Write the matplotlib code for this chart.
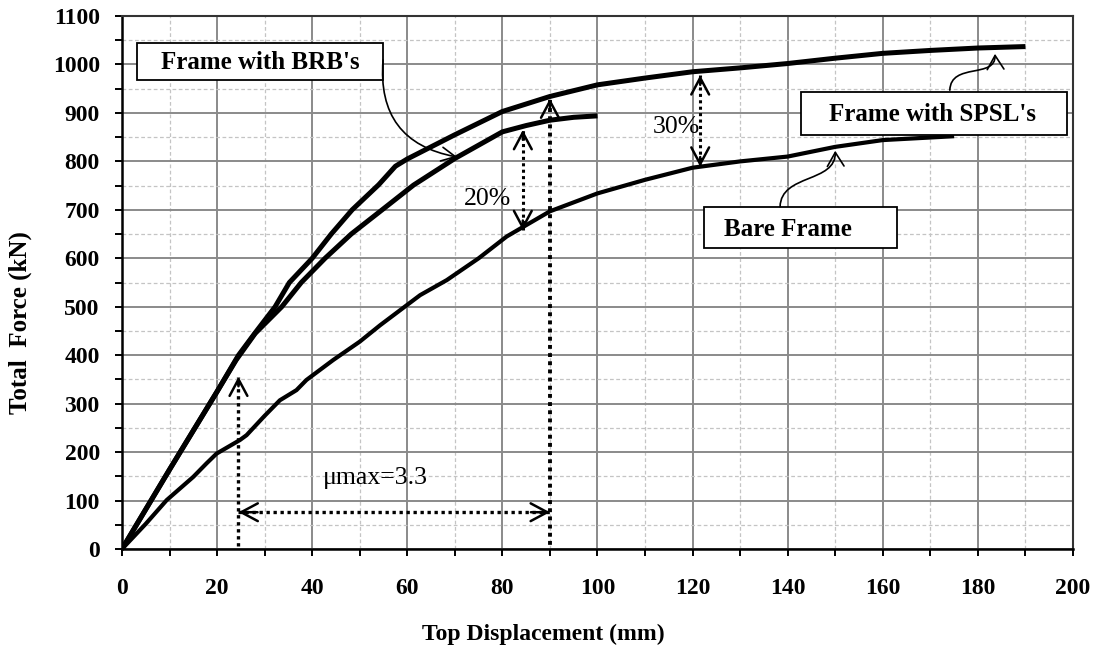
import matplotlib
matplotlib.use("Agg")
import matplotlib.pyplot as plt
from matplotlib.patches import Rectangle, FancyArrowPatch
from matplotlib.path import Path
from matplotlib.ticker import MultipleLocator

plt.rcParams['font.family'] = ['Liberation Serif', 'DejaVu Serif']

# ---------------- data ----------------
x_brb = [0, 10, 20, 24, 28, 33.6, 37.7, 42.7, 48.2, 54.7, 61.3, 70, 80, 85, 90, 95, 100]
y_brb = [0, 164, 325, 390, 445, 500, 550, 600, 650, 700, 751, 806, 861, 874, 885, 891, 894]

x_spsl = [0, 10, 20, 24.5, 28.3, 32.2, 35.2, 40, 44, 48.4, 54, 57.5, 60, 70, 80,
          90, 100, 110, 120, 130, 140, 150, 160, 170, 180, 190]
y_spsl = [0, 164, 325, 400, 450, 500, 550, 600, 650, 700, 752, 790, 805, 855, 903,
          934, 958, 972, 985, 993, 1002, 1013, 1023, 1029, 1034, 1037]

x_bare = [0, 5, 9.4, 15, 17.8, 19.9, 24.8, 26.2, 30, 33.2, 36.7, 38.8, 44.4, 50, 54.3, 62.7,
          68.3, 75, 80.9, 90, 100, 110, 120, 130, 140, 150, 160, 175]
y_bare = [0, 52, 101, 149, 177, 197, 225, 235, 275, 307, 328, 349, 390, 428, 462, 524,
          555, 600, 645, 697, 734, 762, 787, 800, 810, 830, 844, 852]

x_ticks = list(range(0, 201, 20))
y_ticks = list(range(0, 1101, 100))

label_brb = "Frame with BRB's"
label_spsl = "Frame with SPSL's"
label_bare = "Bare Frame"

# ---------------- figure ----------------
fig = plt.figure(figsize=(10.95, 6.49), dpi=100)
ax = fig.add_axes([0.1114, 0.154, 0.8685, 0.8213])
ax.set_xlim(0, 200)
ax.set_ylim(0, 1100)
ax.set_xticks(x_ticks)
ax.set_yticks(y_ticks)
ax.xaxis.set_minor_locator(MultipleLocator(10))
ax.yaxis.set_minor_locator(MultipleLocator(50))

ax.grid(which='major', color='#8a8a8a', lw=1.4, zorder=0)
ax.grid(which='minor', color='#c4c4c4', lw=0.9, ls=(0, (3, 2)), zorder=0)
ax.set_axisbelow(True)

for side in ['left', 'bottom']:
    ax.spines[side].set_linewidth(1.8)
    ax.spines[side].set_color('black')
for side in ['top', 'right']:
    ax.spines[side].set_linewidth(1.5)
    ax.spines[side].set_color('#333333')

ax.tick_params(which='both', direction='out', length=5, width=1.4, color='black')
ax.tick_params(axis='x', which='major', pad=15.5, labelsize=17)
ax.tick_params(axis='y', which='major', pad=11, labelsize=17)
for lab in ax.get_xticklabels() + ax.get_yticklabels():
    lab.set_fontweight('bold')

ax.set_xlabel('Top Displacement (mm)', fontsize=17, fontweight='bold', va='center')
ax.xaxis.set_label_coords(0.443, -0.161)
ax.set_ylabel('Total  Force (kN)', fontsize=18, fontweight='bold', va='center')
ax.yaxis.set_label_coords(-0.107, 0.424)

# ---------------- curves ----------------
ax.plot(x_spsl, y_spsl, color='black', lw=3.6, solid_capstyle='butt', solid_joinstyle='round', zorder=4)
ax.plot(x_brb, y_brb, color='black', lw=3.6, solid_capstyle='butt', solid_joinstyle='round', zorder=4)
ax.plot(x_bare, y_bare, color='black', lw=3.0, solid_capstyle='butt', solid_joinstyle='round', zorder=4)

# ---------------- dotted guides with arrow heads ----------------
dot = dict(color='black', ls=(0, (1, 1.1)), zorder=5)
def head(tip, tail):
    ax.annotate('', xy=tip, xytext=tail,
                arrowprops=dict(arrowstyle='->,head_length=0.6,head_width=0.32',
                                lw=1.8, color='black', shrinkA=0, shrinkB=0,
                                mutation_scale=20), zorder=6)

# ductility lines
ax.plot([90, 90], [-8, 930], lw=2.8, **dot)
head((90, 930), (90, 910))
ax.plot([24.5, 24.5], [-8, 356], lw=2.4, **dot)
head((24.5, 356), (24.5, 336))
ax.plot([24.5, 90], [76, 76], lw=2.4, **dot)
head((24.5, 76), (28.5, 76))
head((90, 76), (86, 76))
# 20 %
ax.plot([84.3, 84.3], [658, 865], lw=2.2, **dot)
head((84.3, 865), (84.3, 845))
head((84.3, 658), (84.3, 678))
# 30 %
ax.plot([121.6, 121.6], [789, 978], lw=2.2, **dot)
head((121.6, 978), (121.6, 958))
head((121.6, 789), (121.6, 809))

ax.text(76.8, 722, '20%', fontsize=18.5, ha='center', va='center', zorder=6)
ax.text(116.5, 872, '30%', fontsize=18.5, ha='center', va='center', zorder=6)
ax.text(42.3, 146, '\u03bcmax=3.3', fontsize=18.5, ha='left', va='center', zorder=6)

# ---------------- label boxes ----------------
def box(x0, x1, y0, y1):
    ax.add_patch(Rectangle((x0, y0), x1 - x0, y1 - y0, fc='white', ec='black',
                           lw=1.3, zorder=7))

box(3.2, 54.9, 968, 1044)
ax.text(29, 1004, label_brb, fontsize=18, fontweight='bold', ha='center', va='center', zorder=8)
box(142.9, 198.7, 855, 944)
ax.text(170.5, 897, label_spsl, fontsize=18, fontweight='bold', ha='center', va='center', zorder=8)
box(122.4, 163, 620.6, 706.5)
ax.text(140, 660, label_bare, fontsize=18, fontweight='bold', ha='center', va='center', zorder=8)

# curved leader from BRB box
ax.add_patch(FancyArrowPatch((54.9, 1009), (70.5, 809),
                             connectionstyle='arc3,rad=0.45',
                             arrowstyle='->,head_length=0.5,head_width=0.25',
                             mutation_scale=20, lw=1.2, color='black',
                             shrinkA=0, shrinkB=0, zorder=8))

# S-shaped leaders
def squiggle(p0, p1, p2, p3):
    path = Path([p0, p1, p2, p3], [Path.MOVETO, Path.CURVE4, Path.CURVE4, Path.CURVE4])
    ax.add_patch(FancyArrowPatch(path=path,
                                 arrowstyle='->,head_length=0.5,head_width=0.3',
                                 mutation_scale=20, lw=1.2, color='black', zorder=8))

squiggle((174.1, 947), (174.3, 1005), (183.8, 970), (183.6, 1022))
squiggle((138.4, 706.5), (138.6, 775), (150.2, 755), (150.0, 822))

fig.savefig('out.png', dpi=100)
